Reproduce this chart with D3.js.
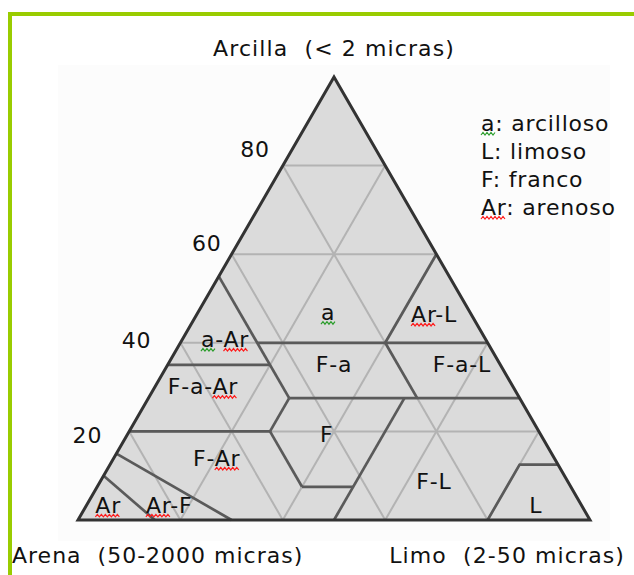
<!DOCTYPE html>
<html><head><meta charset="utf-8">
<script src="https://cdn.jsdelivr.net/npm/d3@7/dist/d3.min.js"></script>
<style>
html,body{margin:0;padding:0;background:#fff;}
svg{display:block;}
text{font-family:"DejaVu Sans",Verdana,sans-serif;fill:#111;white-space:pre;}
</style></head>
<body><svg id="c" width="634" height="575"></svg>
<script>
// ---------- data ----------
const axisTitles = ["Arcilla  (< 2 micras)", "Arena  (50-2000 micras)", "Limo  (2-50 micras)"];
const clayTicks = [80, 60, 40, 20];
const gridValues = [20, 40, 60, 80];
// boundary polylines, each point = [clay %, silt %] (sand = rest)
const boundaryLines = [
  [[55, 0], [27.5, 27.5]],
  [[35, 0], [35, 20]],
  [[40, 15], [40, 60]],
  [[40, 40], [60, 40]],
  [[40, 40], [27.5, 52.5]],
  [[27.5, 27.5], [27.5, 72.5]],
  [[27.5, 27.5], [20, 27.5]],
  [[20, 0], [20, 27.5]],
  [[20, 27.5], [7.5, 40]],
  [[7.5, 40], [7.5, 50]],
  [[0, 50], [27.5, 50]],
  [[0, 80], [12.5, 80], [12.5, 87.5]],
  [[15, 0], [0, 30]],
  [[10, 0], [0, 15]]
];
const regionLabels = ["a", "Ar-L", "a-Ar", "F-a", "F-a-L", "F-a-Ar", "F", "F-Ar", "F-L", "Ar", "Ar-F", "L"];
const regionClay   = [45.1, 44.7, 39.05, 33.4, 33.4, 28.4, 17.6, 12.2, 7.0, 1.6, 1.6, 1.6];
const regionSilt   = [26.3, 47.2, 9.2, 33.3, 58.3, 10.2, 39.8, 21.0, 66.0, 5.1, 17.0, 88.6];
const legendItems = ["a: arcilloso", "L: limoso", "F: franco", "Ar: arenoso"];

// ---------- layout ----------
const svg = d3.select("#c");
const FS = 22;
const hScale = d3.scaleLinear().domain([0, 100]).range([78, 590]);   // silt + clay/2
const vScale = d3.scaleLinear().domain([0, 100]).range([520, 77]);   // clay
const pt = (clay, silt) => [hScale(silt + clay / 2), vScale(clay)];
const tickNudge = [[-13, -9], [-10, -3], [-29, 5], [-27, 12]];

// faint backdrop and green frame (left + top)
svg.append("rect").attr("x", 58).attr("y", 65).attr("width", 552).attr("height", 476).attr("fill", "#fcfcfc");
svg.append("line").attr("x1", 10).attr("x2", 10).attr("y1", 12).attr("y2", 575).attr("stroke", "#99cc00").attr("stroke-width", 4);
svg.append("line").attr("x1", 8).attr("x2", 634).attr("y1", 14).attr("y2", 14).attr("stroke", "#99cc00").attr("stroke-width", 4);

const line = d3.line();
const corners = [pt(0, 0), pt(0, 100), pt(100, 0)];
svg.append("path").attr("d", line(corners) + "Z").attr("fill", "#dbdbdb");

// grid
const g = svg.append("g").attr("stroke", "#b3b3b3").attr("stroke-width", 2).attr("fill", "none");
gridValues.forEach(v => {
  g.append("path").attr("d", line([pt(v, 0), pt(v, 100 - v)]));           // clay = v
  g.append("path").attr("d", line([pt(100 - v, 0), pt(0, 100 - v)]));     // sand = v
  g.append("path").attr("d", line([pt(0, v), pt(100 - v, v)]));           // silt = v
});

// boundaries
const b = svg.append("g").attr("stroke", "#5a5a5a").attr("stroke-width", 2.7).attr("fill", "none")
  .attr("stroke-linejoin", "round");
boundaryLines.forEach(pl => b.append("path").attr("d", line(pl.map(p => pt(p[0], p[1])))));

// outline
svg.append("path").attr("d", line(corners) + "Z").attr("fill", "none")
  .attr("stroke", "#333").attr("stroke-width", 3).attr("stroke-linejoin", "miter");

// squiggle helper
function squiggle(textNode, i0, i1, baseY, color) {
  const x0 = textNode.getStartPositionOfChar(i0).x;
  const x1 = textNode.getEndPositionOfChar(i1).x;
  const pts = [];
  let k = 0;
  for (let x = x0; x <= x1 + 0.1; x += 2, k++) pts.push([x, baseY + (k % 2 ? 1.5 : 4)]);
  svg.append("path").attr("d", line(pts)).attr("fill", "none").attr("stroke", color).attr("stroke-width", 1.2);
}
function addMarks(textSel, str, baseY) {
  const node = textSel.node();
  let idx = 0;
  str.split(/([-: ])/).forEach((tok, ti) => {
    if (tok === "Ar") squiggle(node, idx, idx + 1, baseY, "#ff1a1a");
    if (tok === "a" && ti === 0) squiggle(node, idx, idx, baseY, "#2a9d2a");
    idx += tok.length;
  });
}

const txt = (x, y, s, anchor, ls) => svg.append("text").attr("x", x).attr("y", y)
  .attr("text-anchor", anchor).attr("font-size", FS).attr("letter-spacing", (ls == null ? 0.8 : ls) + "px")
  .attr("xml:space", "preserve").text(s);

// axis titles
txt(pt(100, 0)[0], 56, axisTitles[0], "middle", 1.1);
txt(12, 563, axisTitles[1], "start", 1.0);
txt(625, 563, axisTitles[2], "end", 1.1);

// clay ticks
clayTicks.forEach((c, i) => {
  const [x, y] = pt(c, 0);
  txt(x + tickNudge[i][0], y + tickNudge[i][1], String(c), "end");
});

// region labels
regionLabels.forEach((s, i) => {
  const [x, y] = pt(regionClay[i], regionSilt[i]);
  const t = txt(x, y, s, "middle");
  addMarks(t, s, y);
});

// legend
legendItems.forEach((s, i) => {
  const y = 131 + i * 28;
  const t = txt(481, y, s, "start");
  addMarks(t, s, y);
});
</script></body></html>
